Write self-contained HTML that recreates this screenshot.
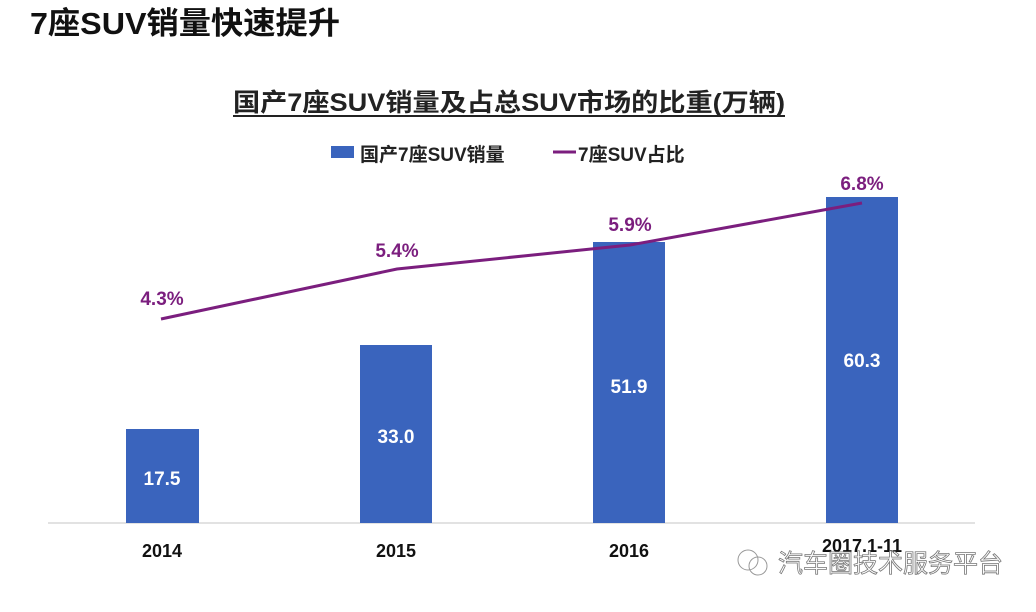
<!DOCTYPE html>
<html><head><meta charset="utf-8"><style>
body{margin:0;background:#fff;}
svg text{font-family:"Liberation Sans","Noto Sans CJK SC",sans-serif;font-weight:bold;}
</style></head><body>
<svg width="1036" height="607" viewBox="0 0 1036 607" xmlns="http://www.w3.org/2000/svg">
<rect width="1036" height="607" fill="#fff"/>
<text x="30" y="34" font-size="31" fill="#111" textLength="310" lengthAdjust="spacingAndGlyphs">7座SUV销量快速提升</text>
<text x="509" y="111" font-size="25" fill="#222" text-anchor="middle" textLength="552" lengthAdjust="spacingAndGlyphs">国产7座SUV销量及占总SUV市场的比重(万辆)</text>
<line x1="233" y1="116" x2="785" y2="116" stroke="#222" stroke-width="2"/>
<rect x="331" y="146" width="23" height="12" fill="#3a64bd"/>
<text x="360" y="161" font-size="19" fill="#222">国产7座SUV销量</text>
<line x1="553" y1="152" x2="576" y2="152" stroke="#7b1e7e" stroke-width="3"/>
<text x="578" y="161" font-size="19" fill="#222">7座SUV占比</text>
<line x1="48" y1="523" x2="975" y2="523" stroke="#d9d9d9" stroke-width="1.5"/>
<g fill="#3a64bd">
<rect x="126" y="429" width="73" height="94"/>
<rect x="360" y="345" width="72" height="178"/>
<rect x="593" y="242" width="72" height="281"/>
<rect x="826" y="197" width="72" height="326"/>
</g>
<g fill="#fff" font-size="19" text-anchor="middle">
<text x="162" y="485">17.5</text>
<text x="396" y="443">33.0</text>
<text x="629" y="393">51.9</text>
<text x="862" y="367">60.3</text>
</g>
<polyline points="161,319 397,269 630,245 862,203" fill="none" stroke="#7b1e7e" stroke-width="3"/>
<g fill="#7b1e7e" font-size="19" text-anchor="middle">
<text x="162" y="305">4.3%</text>
<text x="397" y="257">5.4%</text>
<text x="630" y="231">5.9%</text>
<text x="862" y="190">6.8%</text>
</g>
<g fill="#111" font-size="18" text-anchor="middle">
<text x="162" y="557">2014</text>
<text x="396" y="557">2015</text>
<text x="629" y="557">2016</text>
<text x="862" y="552">2017.1-11</text>
</g>
<circle cx="748" cy="560" r="10" fill="none" stroke="#999" stroke-width="1"/>
<circle cx="758" cy="566" r="9" fill="none" stroke="#999" stroke-width="1"/>
<text x="778" y="572" font-size="25" fill="#fff" stroke="#777" stroke-width="0.8" style="font-weight:normal">汽车圈技术服务平台</text>
</svg>
</body></html>
